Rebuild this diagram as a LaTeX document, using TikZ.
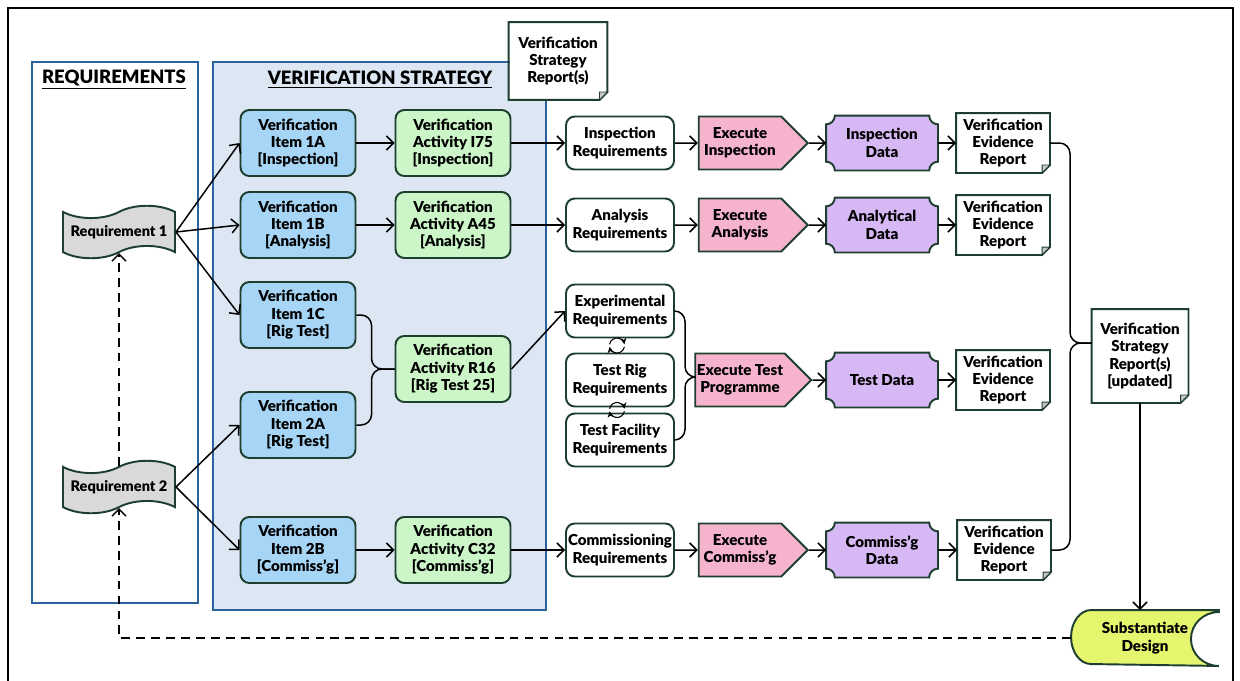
\documentclass[tikz,border=0pt]{standalone}
\usepackage{fontspec}
\setmainfont{Lato}[BoldFont={Lato Black}]
\usetikzlibrary{arrows.meta,calc,shapes.symbols,backgrounds}
\definecolor{itemblue}{HTML}{A7D5F5}
\definecolor{actgreen}{HTML}{CCF5C8}
\definecolor{execpink}{HTML}{F5B3CE}
\definecolor{datapurple}{HTML}{D6B8F5}
\definecolor{subyellow}{HTML}{E5F56E}
\definecolor{flaggray}{HTML}{D9D9D9}
\definecolor{panelblue}{HTML}{DCE7F3}
\definecolor{paneledge}{HTML}{2B62A0}
\definecolor{boxedge}{HTML}{1E3F30}
\tikzset{
  nodebase/.style={draw=boxedge, line width=1.1pt, align=center, inner sep=1pt,
    font=\bfseries\fontsize{8.6}{9.9}\selectfont},
  itembox/.style={nodebase, rounded corners=5pt, fill=itemblue, minimum width=2.3cm, minimum height=1.32cm},
  actbox/.style={itembox, fill=actgreen},
  reqbox/.style={nodebase, rounded corners=5pt, fill=white, minimum width=2.16cm, minimum height=1.06cm},
  execbox/.style={nodebase, signal, signal to=east, fill=execpink, minimum width=2.18cm, minimum height=1.06cm},
  databox/.style={nodebase, draw=none, minimum width=2.2cm, minimum height=1.06cm},
  docbox/.style={nodebase, draw=none, fill=white, minimum width=1.84cm, minimum height=1.16cm},
  flagbox/.style={nodebase, tape, tape bend height=7pt, fill=flaggray, minimum width=2.24cm, minimum height=1.05cm,
    font=\bfseries\fontsize{8.3}{9.9}\selectfont},
  titlebox/.style={font=\bfseries\fontsize{10.5}{12}\selectfont},
  arr/.style={line width=0.85pt, -{Straight Barb[length=4pt,width=8pt]}},
  dasharr/.style={arr, dash pattern=on 5pt off 3.5pt},
  brace/.style={line width=0.85pt, rounded corners=6pt},
}
\begin{document}
\begin{tikzpicture}[x=0.02cm, y=-0.02cm]
\useasboundingbox (0,0) rectangle (1240,680);
\begin{scope}[on background layer]
\fill[white] (0,0) rectangle (1240,680);
\end{scope}
\draw[line width=1.2pt] (8,690) -- (8,8) -- (1233,8) -- (1233,690);
\draw[paneledge, line width=1.1pt] (32,62) rectangle (198,603);
\draw[paneledge, line width=1.1pt, fill=panelblue] (213,62) rectangle (546,610);
\node[titlebox] (ttlreq) at (114,80) {\underline{REQUIREMENTS}};
\node[titlebox] (ttlvs) at (380,80) {\underline{VERIFICATION STRATEGY}};

\node[flagbox] (req1) at (119,232) {Requirement 1};
\node[flagbox] (req2) at (119,487) {Requirement 2};

\node[itembox] (i1a) at (298,143) {Verification\\Item 1A\\{[}Inspection{]}};
\node[itembox] (i1b) at (298,225) {Verification\\Item 1B\\{[}Analysis{]}};
\node[itembox] (i1c) at (298,315) {Verification\\Item 1C\\{[}Rig Test{]}};
\node[itembox] (i2a) at (298,425) {Verification\\Item 2A\\{[}Rig Test{]}};
\node[itembox] (i2b) at (298,550) {Verification\\Item 2B\\{[}Commiss’g{]}};

\node[actbox] (a75) at (453,143) {Verification\\Activity I75\\{[}Inspection{]}};
\node[actbox] (a45) at (453,225) {Verification\\Activity A45\\{[}Analysis{]}};
\node[actbox] (r16) at (453,369) {Verification\\Activity R16\\{[}Rig Test 25{]}};
\node[actbox] (c32) at (453,550) {Verification\\Activity C32\\{[}Commiss’g{]}};

\node[docbox, minimum width=1.94cm, minimum height=1.52cm] (vsr) at (558,61) {Verification\\Strategy\\Report(s)};

\node[reqbox] (insp) at (620,143) {Inspection\\Requirements};
\node[reqbox] (anal) at (620,225) {Analysis\\Requirements};
\node[reqbox] (exp) at (620,311) {Experimental\\Requirements};
\node[reqbox] (rig) at (620,380) {Test Rig\\Requirements};
\node[reqbox] (tf) at (620,440) {Test Facility\\Requirements};
\node[reqbox] (comm) at (620,550) {Commissioning\\Requirements};

\node[execbox] (exi) at (740,143) {Execute\\Inspection};
\node[execbox] (exa) at (740,225) {Execute\\Analysis};
\node[execbox] (ext) at (740,380) {Execute Test\\Programme};
\node[execbox] (exc) at (740,550) {Execute\\Commiss’g};

\node[databox] (d1) at (882,143) {Inspection\\Data};
\node[databox] (d2) at (882,225) {Analytical\\Data};
\node[databox] (d3) at (882,380) {Test Data};
\node[databox] (d4) at (882,550) {Commiss’g\\Data};

\node[docbox] (ev1) at (1003,143) {Verification\\Evidence\\Report};
\node[docbox] (ev2) at (1003,225) {Verification\\Evidence\\Report};
\node[docbox] (ev3) at (1003,380) {Verification\\Evidence\\Report};
\node[docbox] (ev4) at (1004,550) {Verification\\Evidence\\Report};

\node[docbox, minimum width=1.9cm, minimum height=1.84cm] (vsu) at (1140,356) {Verification\\Strategy\\Report(s)\\{[}updated{]}};

\node[databox, minimum width=2.92cm, minimum height=1.08cm] (sub) at (1145,638) {Substantiate\\Design};

\begin{scope}[on background layer]
\foreach \d in {d1,d2,d3,d4}
  \draw[draw=boxedge, line width=1.1pt, fill=datapurple] ([xshift=5pt]\d.north west) -- ([xshift=-5pt]\d.north east)
    arc[start angle=180, end angle=270, radius=5pt] -- ([yshift=5pt]\d.south east)
    arc[start angle=90, end angle=180, radius=5pt] -- ([xshift=5pt]\d.south west)
    arc[start angle=0, end angle=90, radius=5pt] -- ([yshift=-5pt]\d.north west)
    arc[start angle=270, end angle=360, radius=5pt] -- cycle;
\draw[draw=boxedge, line width=1.1pt, fill=subyellow] (sub.north east) -- ([xshift=0.4cm]sub.north west)
  arc[start angle=90, end angle=270, x radius=0.4cm, y radius=0.54cm] -- (sub.south east)
  arc[start angle=270, end angle=90, x radius=0.56cm, y radius=0.54cm] -- cycle;
\end{scope}

\foreach \d in {vsr,ev1,ev2,ev3,ev4,vsu} {
  \draw[draw=boxedge, line width=1.1pt] (\d.north west) -- (\d.north east) -- ([yshift=4.5pt]\d.south east)
    -- ([xshift=-4.5pt]\d.south east) -- (\d.south west) -- cycle;
  \draw[draw=boxedge, line width=0.5pt, fill=gray!45] ([yshift=4.5pt]\d.south east) -- ([xshift=-4.5pt]\d.south east)
    -- ([xshift=-4.5pt, yshift=4.5pt]\d.south east) -- cycle;
}

\draw[arr] (req1.east) -- (i1a.west);
\draw[arr] (req1.east) -- (i1b.west);
\draw[arr] (req1.east) -- (i1c.west);
\draw[arr] (req2.east) -- (i2a.west);
\draw[arr] (req2.east) -- (i2b.west);

\draw[arr] (i1a) -- (a75);
\draw[arr] (i1b) -- (a45);
\draw[arr] (i2b) -- (c32);

\coordinate (brv) at ($(r16.west)+(-23,0)$);
\draw[brace] (i1c.east) -| (brv) -- (r16.west);
\draw[brace] (i2a.east) -| (brv) -- (r16.west);

\draw[arr] (a75) -- (insp);
\draw[arr] (a45) -- (anal);
\draw[arr] (r16.east) -- (exp.west);
\draw[arr] (c32) -- (comm);

\foreach \a/\b in {exp/rig, rig/tf} {
  \coordinate (lp) at ($(\a.south)!0.5!(\b.north)+(-3,0)$);
  \draw[line width=0.6pt, -{Stealth[length=3.5pt,width=3.5pt]}] ([shift={(170:0.15cm)}]lp) arc[start angle=170, end angle=10, radius=0.15cm];
  \draw[line width=0.6pt, -{Stealth[length=3.5pt,width=3.5pt]}] ([shift={(350:0.15cm)}]lp) arc[start angle=350, end angle=190, radius=0.15cm];
}

\coordinate (bre) at (685,377);
\draw[brace] (exp.east) -| (bre) -- (bre -| ext.west);
\draw[brace] (tf.east) -| (bre) -- (bre -| ext.west);

\draw[arr] (insp) -- (exi);
\draw[arr] (anal) -- (exa);
\draw[arr] (comm) -- (exc);
\draw[arr] (exi) -- (d1);
\draw[arr] (exa) -- (d2);
\draw[arr] (ext) -- (d3);
\draw[arr] (exc) -- (d4);
\draw[arr] (d1) -- (ev1);
\draw[arr] (d2) -- (ev2);
\draw[arr] (d3) -- (ev3);
\draw[arr] (d4) -- (ev4);

\coordinate (brw) at (1070,343);
\draw[brace] (ev1.east) -| (brw) -- (brw -| vsu.west);
\draw[brace] (ev4.east) -| (brw) -- (brw -| vsu.west);

\draw[arr] (vsu.south) -- (vsu.south |- sub.north);
\draw[dasharr] (sub.west) -| (req2.south);
\draw[dasharr] (req2.north) -- (req1.south);
\end{tikzpicture}
\end{document}
